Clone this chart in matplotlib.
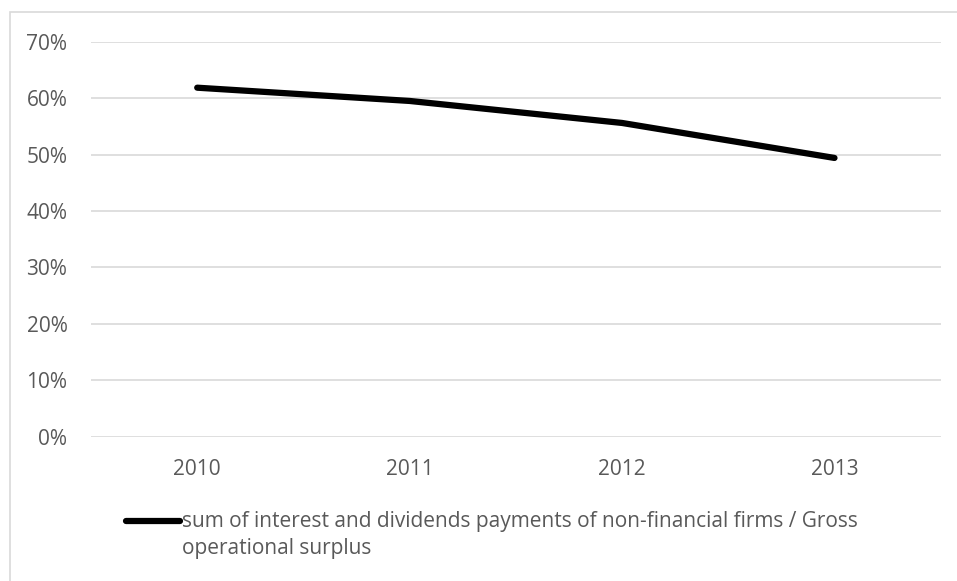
import matplotlib
matplotlib.use("Agg")
import matplotlib.pyplot as plt
from matplotlib.lines import Line2D
from matplotlib.patches import Rectangle
from matplotlib.ticker import PercentFormatter, MultipleLocator

years = ["2010", "2011", "2012", "2013"]
ratio = [0.6185, 0.595, 0.556, 0.494]
label_lines = ["sum of interest and dividends payments of non-financial firms / Gross",
               "operational surplus"]

W, H = 957, 581
plt.rcParams["font.family"] = ["Open Sans", "DejaVu Sans"]
text_color = "#595959"
grid_color = "#d9d9d9"
fs = 15

fig = plt.figure(figsize=(W / 100, H / 100), dpi=100)

# outer chart frame
fig.add_artist(Rectangle((9.5 / W, -0.1), 1.2, 1 - 12.5 / H + 0.1,
                         transform=fig.transFigure, fill=False,
                         edgecolor="#d9d9d9", linewidth=1.2))

ax = fig.add_axes([91 / W, 1 - 436.7 / H, (940.7 - 91) / W, (436.7 - 41.7) / H])
x = range(len(years))
ax.plot(x, ratio, color="black", linewidth=4.5, solid_capstyle="round",
        solid_joinstyle="round", zorder=3)

ax.set_xlim(-0.5, len(years) - 0.5)
ax.set_ylim(0, 0.7)
ax.yaxis.set_major_locator(MultipleLocator(0.1))
ax.yaxis.set_major_formatter(PercentFormatter(1.0, decimals=0))
ax.set_xticks(list(x))
ax.set_xticklabels(years)
ax.grid(axis="y", color=grid_color, linewidth=1.2)
ax.set_axisbelow(True)
for s in ax.spines.values():
    s.set_visible(False)
ax.tick_params(axis="both", length=0, colors=text_color, labelsize=fs)
ax.tick_params(axis="y", pad=17)
ax.tick_params(axis="x", pad=16)

# legend entry under the plot
ly = 1 - 521 / H
fig.add_artist(Line2D([126 / W, 180 / W], [ly, ly], transform=fig.transFigure,
                      color="black", linewidth=4.5, solid_capstyle="round"))
for i, line in enumerate(label_lines):
    fig.text(182 / W, 1 - (527 + 27 * i) / H, line, transform=fig.transFigure,
             color=text_color, fontsize=fs, ha="left", va="baseline")

fig.savefig("out.png", dpi=100, facecolor="white")
